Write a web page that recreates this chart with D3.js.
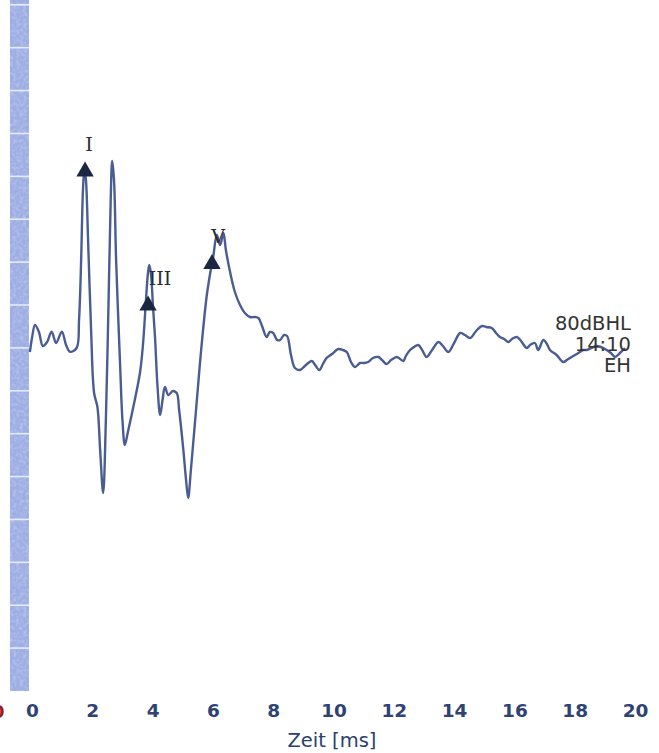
<!DOCTYPE html>
<html>
<head>
<meta charset="utf-8">
<script src="https://cdn.jsdelivr.net/npm/d3@7"></script>
<style>
  html, body { margin: 0; padding: 0; background: #ffffff; }
  svg { display: block; }
</style>
</head>
<body>
<script>
// ---- data ----
const timeMs = [-0.07,0,0.10,0.23,0.36,0.50,0.65,0.80,0.99,1.13,1.26,1.48,1.56,1.63,1.69,1.74,1.79,1.86,1.96,2.06,2.17,2.26,2.36,2.45,2.54,2.61,2.66,2.72,2.79,2.92,3.00,3.08,3.18,3.36,3.58,3.68,3.78,3.85,3.89,3.95,4.01,4.08,4.16,4.25,4.33,4.41,4.52,4.67,4.80,4.88,5.02,5.11,5.18,5.27,5.46,5.61,5.79,5.90,6.01,6.13,6.24,6.35,6.43,6.57,6.73,6.90,7.06,7.23,7.40,7.51,7.63,7.78,7.89,8.00,8.13,8.23,8.36,8.46,8.59,8.72,8.89,9.05,9.28,9.39,9.53,9.65,9.77,9.95,10.16,10.31,10.44,10.58,10.71,10.88,10.99,11.15,11.31,11.49,11.61,11.76,11.91,12.10,12.21,12.32,12.40,12.54,12.67,12.81,12.94,13.09,13.27,13.48,13.63,13.81,14.00,14.20,14.36,14.53,14.73,14.92,15.06,15.25,15.39,15.52,15.66,15.80,15.92,16.08,16.22,16.41,16.52,16.68,16.79,16.96,17.08,17.18,17.40,17.62,17.74,17.84,18.12,18.28,18.40,18.56,18.71,18.87,19.06,19.20,19.34,19.50,19.67];
const amplitudeUV = [-0.005,0.065,0.13,0.095,0.025,0.045,0.097,0.04,0.097,0.03,-0.004,0.015,0.155,0.455,0.805,0.915,0.855,0.555,0.105,-0.21,-0.28,-0.495,-0.71,-0.345,0.255,0.755,0.95,0.855,0.455,-0.06,-0.345,-0.47,-0.405,-0.28,-0.11,0.03,0.255,0.395,0.43,0.38,0.23,0.07,-0.17,-0.32,-0.245,-0.18,-0.22,-0.2,-0.21,-0.295,-0.495,-0.645,-0.735,-0.595,-0.26,0.005,0.27,0.38,0.47,0.58,0.53,0.59,0.505,0.395,0.295,0.23,0.19,0.17,0.17,0.165,0.125,0.07,0.095,0.09,0.055,0.055,0.08,0.075,-0.02,-0.085,-0.095,-0.075,-0.05,-0.07,-0.095,-0.065,-0.035,-0.015,0.01,0.005,-0.005,-0.055,-0.08,-0.06,-0.06,-0.055,-0.035,-0.03,-0.045,-0.065,-0.045,-0.03,-0.04,-0.05,-0.025,0.005,0.02,0.03,0.005,-0.03,0.005,0.045,0.025,-0.005,0.04,0.09,0.08,0.065,0.1,0.125,0.12,0.115,0.09,0.07,0.06,0.045,0.06,0.07,0.05,0.015,0.03,0.04,0.005,0.055,0.035,0.005,-0.02,-0.055,-0.045,-0.035,-0.01,0.005,0.005,0.015,0.025,0.02,0.005,-0.01,-0.03,-0.01,0.015];

const markerNames = ["I", "III", "V"];
const markerTimes = [1.76, 3.85, 5.97];
const markerAmps  = [0.8975, 0.228, 0.435];

const tickValues = [0, 2, 4, 6, 8, 10, 12, 14, 16, 18, 20];
const xAxisTitle = "Zeit [ms]";
const infoLines = ["80dBHL", "14:10", "EH"];
const stripCells = d3.range(16);

// ---- layout ----
const W = 659, H = 753;
const svg = d3.select("body").append("svg").attr("width", W).attr("height", H);

const x = d3.scaleLinear().domain([0, 20]).range([32, 635]);
const y = d3.scaleLinear().domain([-1.7, 1.75]).range([691, 1]);

// texture filter for the left strip
const defs = svg.append("defs");
const f = defs.append("filter").attr("id", "tex").attr("x", 0).attr("y", 0).attr("width", 1).attr("height", 1);
f.append("feTurbulence").attr("type", "fractalNoise").attr("baseFrequency", 0.3).attr("numOctaves", 2).attr("seed", 4).attr("result", "n");
f.append("feColorMatrix").attr("in", "n").attr("type", "matrix")
  .attr("values", "0 0 0 0 1  0 0 0 0 1  0 0 0 0 1  0 0 0 0.45 -0.18").attr("result", "w");
f.append("feComposite").attr("in", "w").attr("in2", "SourceGraphic").attr("operator", "in").attr("result", "wc");
f.append("feMerge").selectAll("feMergeNode").data(["SourceGraphic", "wc"]).enter()
  .append("feMergeNode").attr("in", d => d);

// left strip
const band = d3.scaleBand().domain(stripCells).range([4.8, 691]).paddingInner(0);
const strip = svg.append("g");
strip.append("rect").attr("x", 10).attr("y", 0).attr("width", 19).attr("height", 691)
  .attr("fill", "#9daee4").attr("filter", "url(#tex)");
strip.selectAll("line.sep").data(stripCells).enter().append("line")
  .attr("x1", 10).attr("x2", 29)
  .attr("y1", d => band(d)).attr("y2", d => band(d))
  .attr("stroke", "#e6ebf8").attr("stroke-width", 1.6);

// x axis (labels only)
const xAxis = d3.axisBottom(x).tickValues(tickValues).tickSize(0).tickPadding(0).tickFormat(d3.format("d"));
const gx = svg.append("g").attr("transform", "translate(0,704)").call(xAxis);
gx.select(".domain").remove();
gx.selectAll("text")
  .attr("font-family", "'DejaVu Sans', Verdana, sans-serif")
  .attr("font-size", 18.5)
  .attr("font-weight", "bold")
  .attr("fill", "#2e4373");

svg.append("text").attr("x", 4.5).attr("y", 718).attr("text-anchor", "end")
  .attr("font-family", "'DejaVu Sans', sans-serif").attr("font-size", 18).attr("font-weight", "bold")
  .attr("fill", "#9b1c1c").text("0");

svg.append("text").attr("x", x(9.95)).attr("y", 747).attr("text-anchor", "middle")
  .attr("font-family", "'DejaVu Sans', Verdana, sans-serif").attr("font-size", 19.5)
  .attr("fill", "#2b3f6e").text(xAxisTitle);

// waveform
const pts = timeMs.map((t, i) => [t, amplitudeUV[i]]);
const line = d3.line().x(d => x(d[0])).y(d => y(d[1])).curve(d3.curveCatmullRom.alpha(0.5));
svg.append("path").datum(pts).attr("d", line)
  .attr("fill", "none").attr("stroke", "#4a5d92").attr("stroke-width", 2.4)
  .attr("stroke-linejoin", "round");

// markers
const labelOff = [[4, -21], [12, -20], [6, -21]];
const mk = svg.append("g");
markerNames.forEach((n, i) => {
  mk.append("path")
    .attr("d", d3.symbol().type(d3.symbolTriangle).size(130)())
    .attr("transform", `translate(${x(markerTimes[i])},${y(markerAmps[i])})`)
    .attr("fill", "#1b2742");
  mk.append("text")
    .attr("x", x(markerTimes[i]) + labelOff[i][0])
    .attr("y", y(markerAmps[i]) + labelOff[i][1])
    .attr("text-anchor", "middle")
    .attr("font-family", "'DejaVu Serif', 'Liberation Serif', serif")
    .attr("font-size", 19)
    .attr("fill", "#2a2a30")
    .text(n);
});

// info text
svg.append("g").selectAll("text").data(infoLines).enter().append("text")
  .attr("x", 631).attr("y", (d, i) => 330 + i * 21)
  .attr("text-anchor", "end")
  .attr("font-family", "'DejaVu Sans', sans-serif")
  .attr("font-size", 19.5)
  .attr("fill", "#333333")
  .text(d => d);
</script>
</body>
</html>
